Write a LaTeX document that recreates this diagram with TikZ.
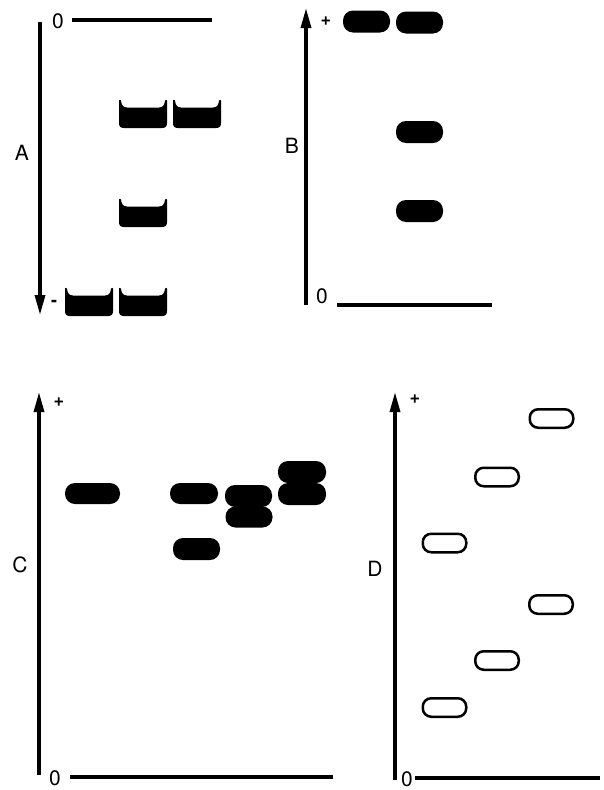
\documentclass[tikz,border=0pt]{standalone}
\usepackage{fontspec}
\setmainfont{TeX Gyre Heros}
\usetikzlibrary{arrows.meta}
\tikzset{
  axis/.style={line width=3.2pt, -{Triangle[width=10pt,length=20pt]}},
  baseline0/.style={line width=3.2pt},
  lbl/.style={inner sep=0pt, font=\fontsize{21}{24}\selectfont},
  sgn/.style={inner sep=0pt, font=\fontsize{18}{20}\selectfont\bfseries},
  solidband/.style={fill=black, draw=none, rounded corners=10pt, inner sep=0pt,
    minimum width=47pt, minimum height=22pt},
  openband/.style={draw=black, fill=none, line width=2.5pt, rounded corners=8.5pt,
    inner sep=0pt, minimum width=43.5pt, minimum height=18.5pt},
  cup/.pic={
    \fill[black] (0,0) -- (0,23) .. controls (0,26.5) and (1.5,28) .. (5,28)
      -- (43,28) .. controls (46.5,28) and (48,26.5) .. (48,23)
      -- (48,0.5) .. controls (48,-0.3) and (46.5,-0.3) .. (46,0.5)
      .. controls (45.5,5) and (44,7.5) .. (40,7.5)
      -- (8,7.5) .. controls (4,7.5) and (2.5,5) .. (2,0.5)
      .. controls (1.5,-0.3) and (0,-0.3) .. (0,0.5) -- cycle;
  }
}
\begin{document}
\begin{tikzpicture}[x=1pt,y=-1pt]
\useasboundingbox (0,0) rectangle (604,790);

% ---------- Panel A ----------
\coordinate (Atop) at (40,22);
\coordinate (Abot) at (40,315);
\coordinate (Al1) at (72,20);
\coordinate (Al2) at (212,20);
\draw[axis] (Atop) -- (Abot);
\draw[baseline0] (Al1) -- (Al2);
\node[lbl] (A0) at (58,21) {0};
\node[lbl] (Alab) at (22,153) {A};
\node[sgn] (Aminus) at (54,303) {-};
\pic at (119,100) {cup};
\pic at (173,100) {cup};
\pic at (119,199) {cup};
\pic at (65,288) {cup};
\pic at (119,288) {cup};

% ---------- Panel B ----------
\coordinate (Bbot) at (306,305);
\coordinate (Btop) at (306,8);
\coordinate (Bl1) at (337,305);
\coordinate (Bl2) at (492,305);
\draw[axis] (Bbot) -- (Btop);
\draw[baseline0] (Bl1) -- (Bl2);
\node[lbl] (B0) at (322,296) {0};
\node[lbl] (Blab) at (292,146) {B};
\node[sgn] (Bplus) at (326,21) {+};
\node[solidband] (b1) at (366.5,21.5) {};
\node[solidband] (b2) at (419.5,22.5) {};
\node[solidband] (b3) at (419.5,132) {};
\node[solidband] (b4) at (419.5,211) {};

% ---------- Panel C ----------
\coordinate (Cbot) at (39,775);
\coordinate (Ctop) at (39,392);
\coordinate (Cl1) at (70,777);
\coordinate (Cl2) at (333,777);
\draw[axis] (Cbot) -- (Ctop);
\draw[baseline0] (Cl1) -- (Cl2);
\node[lbl] (C0) at (55,778) {0};
\node[lbl] (Clab) at (20,565) {C};
\node[sgn] (Cplus) at (59,402) {+};
\node[solidband, minimum width=55pt, minimum height=21pt] (c1) at (92.5,493.5) {};
\node[solidband, minimum width=48pt, minimum height=21pt] (c2) at (194,493.5) {};
\node[solidband] (c3) at (196.5,549) {};
\node[solidband] (c4) at (248.5,496) {};
\node[solidband, minimum height=21pt] (c5) at (249,517) {};
\node[solidband, minimum width=48pt] (c6) at (302,472) {};
\node[solidband, minimum width=48pt] (c7) at (302,494) {};

% ---------- Panel D ----------
\coordinate (Dbot) at (395,780);
\coordinate (Dtop) at (395,392);
\coordinate (Dl1) at (415,778);
\coordinate (Dl2) at (600,778);
\draw[axis] (Dbot) -- (Dtop);
\draw[baseline0] (Dl1) -- (Dl2);
\node[lbl] (D0) at (407,779) {0};
\node[lbl] (Dlab) at (375,569) {D};
\node[sgn] (Dplus) at (415,399) {+};
\node[openband] (d1) at (551.5,418.5) {};
\node[openband] (d2) at (497,477) {};
\node[openband] (d3) at (444.5,543) {};
\node[openband] (d4) at (551,604.5) {};
\node[openband] (d5) at (497,660.5) {};
\node[openband] (d6) at (444.5,707.5) {};
\end{tikzpicture}
\end{document}
